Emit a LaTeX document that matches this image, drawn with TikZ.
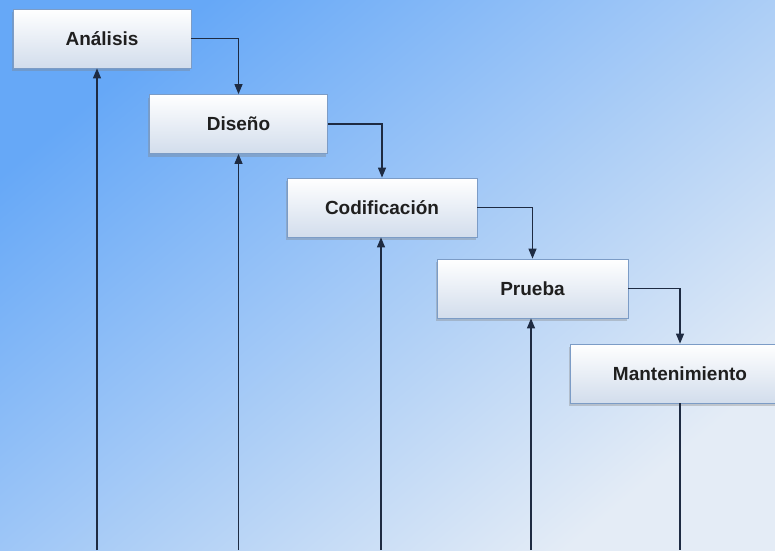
\documentclass[tikz,border=0pt]{standalone}
\usepackage{fontspec}
\setmainfont{Liberation Sans}
\usetikzlibrary{arrows.meta,shadows,positioning}

\definecolor{bgdark}{HTML}{66A8F7}
\definecolor{bglight}{HTML}{E4ECF6}
\definecolor{boxline}{HTML}{7C9CC6}
\definecolor{boxbottom}{HTML}{D2DDEC}
\definecolor{wire}{HTML}{1E2B42}

\tikzset{
	phase/.style={draw=boxline, line width=0.8pt, top color=white, bottom color=boxbottom,
		minimum width=178pt, minimum height=59pt, inner sep=0pt,
		font=\fontsize{19}{21}\selectfont\bfseries, text=black!88,
		drop shadow={shadow xshift=-1.5pt, shadow yshift=-3pt, opacity=0.35}},
	flow/.style={line width=1.2pt, draw=wire, -{Triangle[length=10pt,width=8pt]}},
	tail/.style={line width=1.2pt, draw=wire},
}

\begin{document}
\begin{tikzpicture}[x=1pt, y=-1pt]
		%%%%% START %%%%%
		
		\useasboundingbox (0, 0) rectangle (775, 550);
		\clip (0, 0) rectangle (775, 550);
		\shade[top color=bgdark, bottom color=bglight, shading angle=40] (0, 0) rectangle (775, 550);
		
		\node[phase] (ana) at (102, 38.5) {Análisis};
		\node[phase] (dis) at (238.5, 124) {Diseño};
		\node[phase, minimum width=190pt] (cod) at (382, 207.5) {Codificación};
		\node[phase, minimum width=191pt] (pru) at (532.5, 288.5) {Prueba};
		\node[phase, minimum width=220pt] (man) at (680, 373.5) {Mantenimiento};
		
		\draw[flow] (ana.east) -| (dis.north);
		\draw[flow] (dis.east) -| (cod.north);
		\draw[flow] (cod.east) -| (pru.north);
		\draw[flow] (pru.east) -| (man.north);
		
		\coordinate (bA) at (97, 550);
		\coordinate (bD) at (238.5, 550);
		\coordinate (bC) at (381, 550);
		\coordinate (bP) at (531, 550);
		
		\draw[flow] (bA) -- (bA |- ana.south);
		\draw[flow] (bD) -- (bD |- dis.south);
		\draw[flow] (bC) -- (bC |- cod.south);
		\draw[flow] (bP) -- (bP |- pru.south);
		\draw[tail] (man.south) -- (man.south |- bA);
		
		%%%%% END %%%%%
	\end{tikzpicture}
\end{document}
